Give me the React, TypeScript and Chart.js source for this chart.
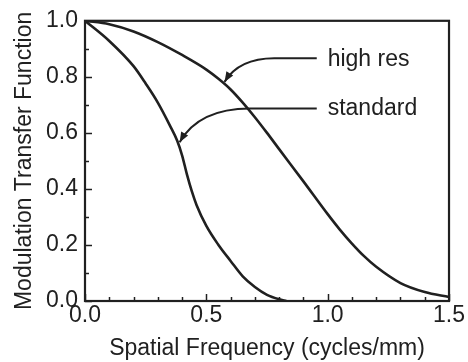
import React, { useEffect, useRef } from "react";
import { Chart, registerables } from "chart.js";
Chart.register(...registerables);

// ---- data ----
const highResX = [0, 0.1, 0.2, 0.3, 0.4, 0.5, 0.55, 0.6, 0.65, 0.7, 0.75, 0.8, 0.9, 1.0, 1.05, 1.1, 1.15, 1.2, 1.3, 1.4, 1.5];
const highResY = [1.0, 0.988, 0.962, 0.924, 0.878, 0.826, 0.793, 0.755, 0.708, 0.656, 0.6, 0.542, 0.427, 0.31, 0.255, 0.205, 0.16, 0.122, 0.064, 0.032, 0.014];
const standardX = [0, 0.1, 0.2, 0.25, 0.3, 0.35, 0.38, 0.4, 0.42, 0.44, 0.46, 0.5, 0.55, 0.6, 0.65, 0.7, 0.75, 0.8, 0.83];
const standardY = [1.0, 0.928, 0.838, 0.776, 0.708, 0.626, 0.572, 0.52, 0.452, 0.392, 0.342, 0.268, 0.2, 0.143, 0.088, 0.05, 0.022, 0.006, 0];
const xMinorTicks = [0, 0.1, 0.2, 0.3, 0.4, 0.5, 0.6, 0.7, 0.8, 0.9, 1.0, 1.1, 1.2, 1.3, 1.4, 1.5];
const yMinorTicks = [0, 0.1, 0.2, 0.3, 0.4, 0.5, 0.6, 0.7, 0.8, 0.9, 1.0];
const xTitle = "Spatial Frequency (cycles/mm)";
const yTitle = "Modulation Transfer Function";
const labelNames = ["high res", "standard"];

// annotation geometry in data units: text anchor, arrow start, bend start, control, tip
const annotations = [
  { text: labelNames[0], tx: 1.0, ty: 0.863, sx: 0.955, sy: 0.866, bx: 0.78, by: 0.866, cx: 0.635, cy: 0.866, ex: 0.575, ey: 0.782 },
  { text: labelNames[1], tx: 1.0, ty: 0.687, sx: 0.955, sy: 0.687, bx: 0.68, by: 0.687, cx: 0.47, cy: 0.687, ex: 0.39, ey: 0.567 },
];

const INK = "#202020";
const FONT = "'Liberation Sans', Arial, sans-serif";

const framePlugin = {
  id: "frame",
  afterDatasetsDraw(chart: any) {
    const { ctx, chartArea: a, scales } = chart;
    const xs = scales.x;
    const ys = scales.y;
    ctx.save();
    ctx.strokeStyle = INK;
    ctx.lineWidth = 1.5;
    for (const v of xMinorTicks) {
      const px = Math.round(xs.getPixelForValue(v)) + 0.5;
      const major = Math.abs(v * 2 - Math.round(v * 2)) < 1e-6;
      const len = major ? 7 : 4;
      ctx.beginPath();
      ctx.moveTo(px, a.bottom);
      ctx.lineTo(px, a.bottom - len);
      ctx.stroke();
    }
    for (const v of yMinorTicks) {
      const py = Math.round(ys.getPixelForValue(v)) + 0.5;
      const major = Math.abs(v * 5 - Math.round(v * 5)) < 1e-6;
      const len = major ? 7 : 4;
      ctx.beginPath();
      ctx.moveTo(a.left, py);
      ctx.lineTo(a.left + len, py);
      ctx.stroke();
    }
    ctx.lineWidth = 2.2;
    ctx.strokeRect(a.left, a.top, a.right - a.left, a.bottom - a.top);

    // annotations
    ctx.font = `23px ${FONT}`;
    ctx.fillStyle = INK;
    ctx.textBaseline = "middle";
    ctx.textAlign = "left";
    for (const an of annotations) {
      ctx.fillText(an.text, xs.getPixelForValue(an.tx), ys.getPixelForValue(an.ty));
      const sx = xs.getPixelForValue(an.sx), sy = ys.getPixelForValue(an.sy);
      const bx = xs.getPixelForValue(an.bx), by = ys.getPixelForValue(an.by);
      const cx = xs.getPixelForValue(an.cx), cy = ys.getPixelForValue(an.cy);
      const ex = xs.getPixelForValue(an.ex), ey = ys.getPixelForValue(an.ey);
      ctx.lineWidth = 2;
      ctx.beginPath();
      ctx.moveTo(sx, sy);
      ctx.lineTo(bx, by);
      ctx.quadraticCurveTo(cx, cy, ex, ey);
      ctx.stroke();
      const ang = Math.atan2(ey - cy, ex - cx);
      const L = 10, W = 4;
      ctx.beginPath();
      ctx.moveTo(ex, ey);
      ctx.lineTo(ex - L * Math.cos(ang) + W * Math.sin(ang), ey - L * Math.sin(ang) - W * Math.cos(ang));
      ctx.lineTo(ex - L * Math.cos(ang) - W * Math.sin(ang), ey - L * Math.sin(ang) + W * Math.cos(ang));
      ctx.closePath();
      ctx.fill();
    }
    ctx.restore();
  },
};

export default function App() {
  const ref = useRef<HTMLCanvasElement>(null);
  useEffect(() => {
    document.body.style.margin = "0";
    const chart = new Chart(ref.current!, {
      type: "line",
      data: {
        datasets: [
          {
            label: labelNames[0],
            data: highResX.map((x, i) => ({ x, y: highResY[i] })),
            borderColor: INK,
            borderWidth: 2.6,
            pointRadius: 0,
            cubicInterpolationMode: "monotone",
            fill: false,
          },
          {
            label: labelNames[1],
            data: standardX.map((x, i) => ({ x, y: standardY[i] })),
            borderColor: INK,
            borderWidth: 2.6,
            pointRadius: 0,
            cubicInterpolationMode: "monotone",
            fill: false,
          },
        ],
      },
      options: {
        responsive: false,
        animation: false,
        devicePixelRatio: 1,
        layout: { padding: { left: 0, top: 16, right: 17, bottom: 0 } },
        plugins: { legend: { display: false }, tooltip: { enabled: false } },
        scales: {
          x: {
            type: "linear",
            min: 0,
            max: 1.5,
            grid: { display: false, drawTicks: false },
            border: { display: false },
            ticks: {
              stepSize: 0.5,
              padding: 3,
              color: INK,
              font: { family: FONT, size: 23, lineHeight: 1 },
              callback: (v: any) => Number(v).toFixed(1),
              maxRotation: 0,
            },
            title: {
              display: true,
              text: xTitle,
              color: INK,
              font: { family: FONT, size: 23, lineHeight: 1.2 },
              padding: { top: 0, bottom: 0 },
            },
            afterFit: (s: any) => {
              s.height = 61;
            },
          },
          y: {
            min: 0,
            max: 1,
            grid: { display: false, drawTicks: false },
            border: { display: false },
            ticks: {
              stepSize: 0.2,
              padding: 7,
              color: INK,
              font: { family: FONT, size: 23 },
              callback: (v: any) => Number(v).toFixed(1),
            },
            title: {
              display: true,
              text: yTitle,
              color: INK,
              font: { family: FONT, size: 23, lineHeight: 1.2 },
              padding: { top: 11, bottom: 0 },
            },
            afterFit: (s: any) => {
              s.width = 85;
            },
          },
        },
      },
      plugins: [framePlugin],
    });
    return () => chart.destroy();
  }, []);
  return (
    <div style={{ position: "fixed", left: 0, top: 0, width: 468, height: 362, background: "#fff" }}>
      <canvas ref={ref} width={468} height={362} />
    </div>
  );
}
